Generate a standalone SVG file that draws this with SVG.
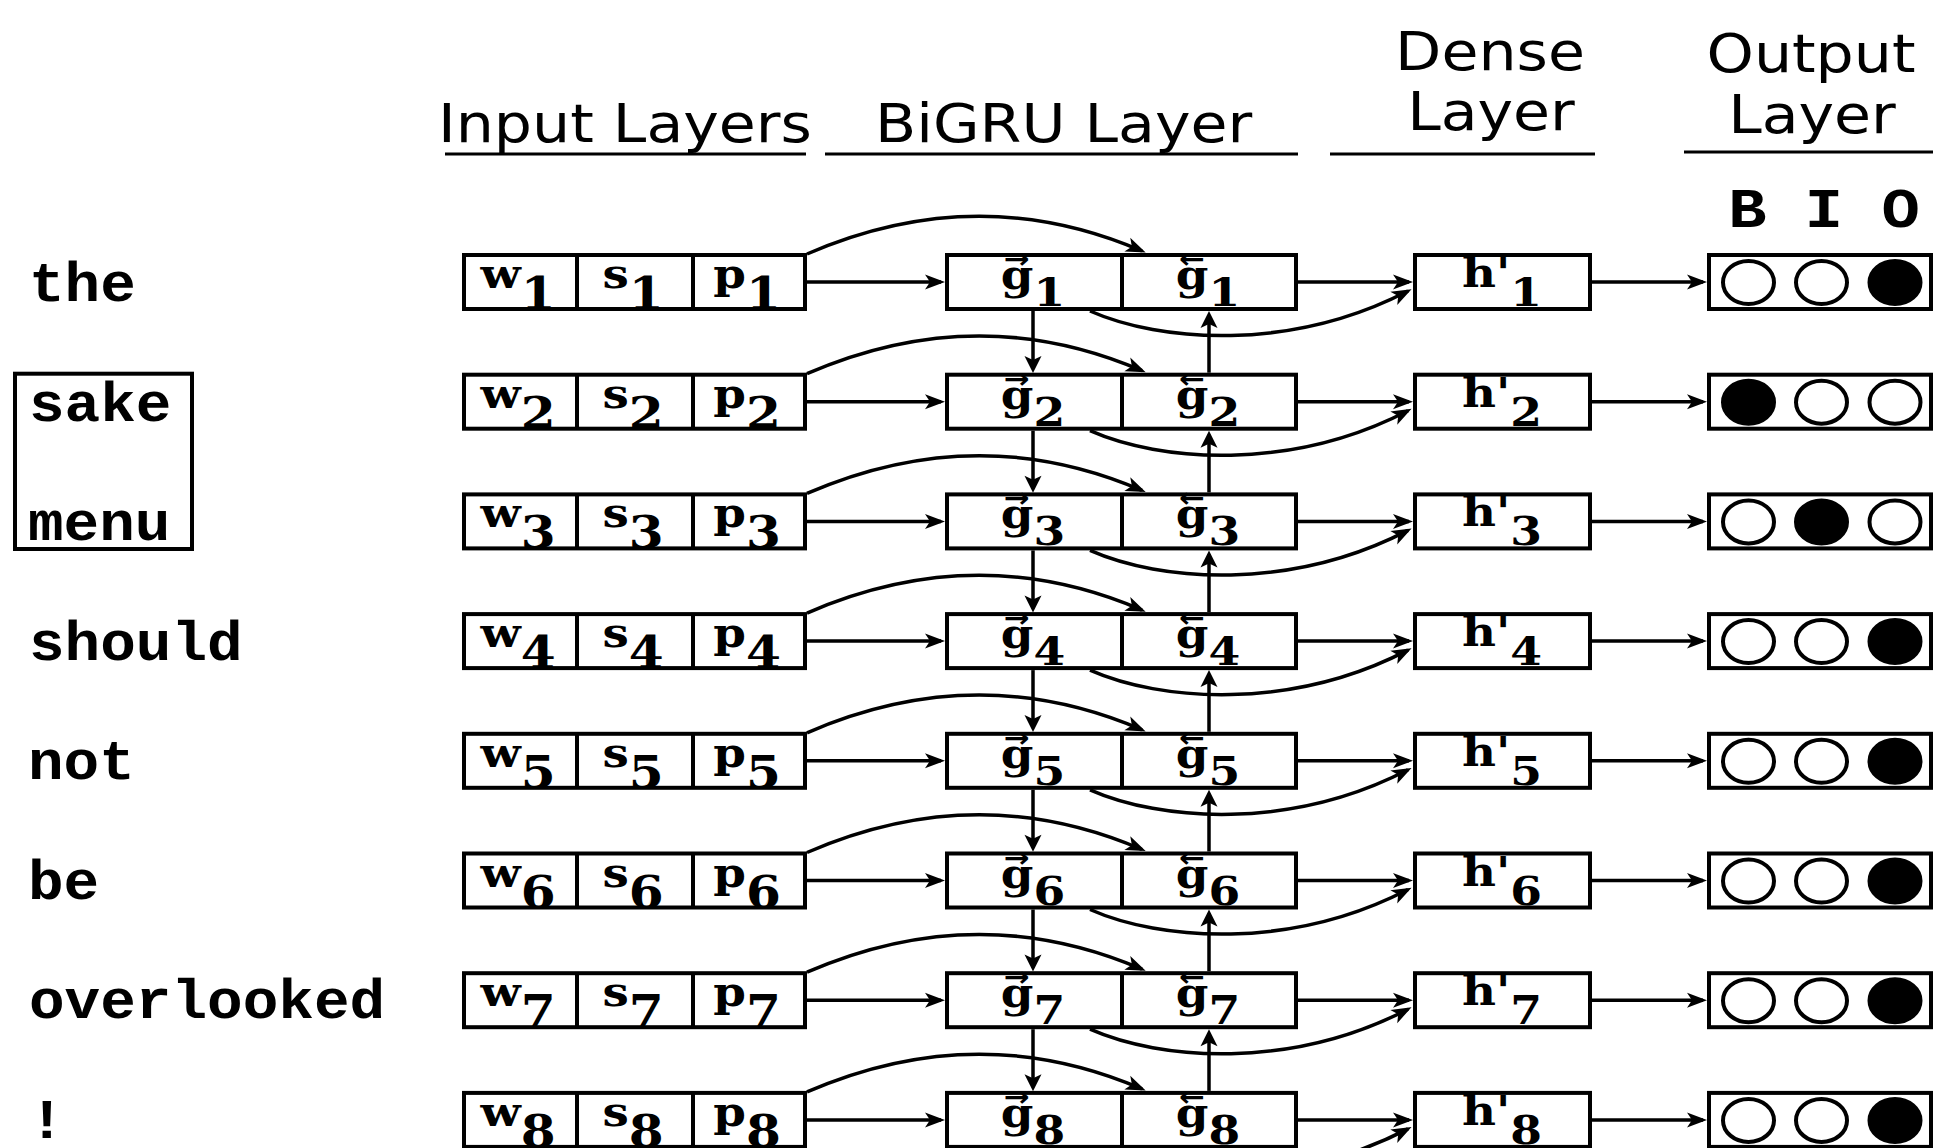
<svg xmlns="http://www.w3.org/2000/svg" width="1933" height="1148" viewBox="0 0 1933 1148">
<style>
.bx{fill:#fff;stroke:#000;stroke-width:4}
.dv{stroke:#000;stroke-width:4}
.ttl{font-family:"DejaVu Sans",sans-serif;font-size:53px;fill:#000}
.ul{stroke:#000;stroke-width:3}
.wd{font-family:"Liberation Mono","Courier New",monospace;font-weight:bold;font-size:56px;fill:#000}
.lb{font-family:"DejaVu Serif",serif;font-weight:bold;font-size:41px;text-anchor:middle;fill:#000}
.acc{font-family:"DejaVu Sans",sans-serif;font-weight:bold;font-size:27px;text-anchor:middle;fill:#000}
.si{font-size:44px}
.sg{font-size:40px}
.c path{fill:none;stroke:#000;stroke-width:3.5}
.ea{marker-end:url(#ah)}
.ev{marker-end:url(#av)}
.o{fill:#fff;stroke:#000;stroke-width:4}
.f{fill:#000;stroke:#000;stroke-width:4}
</style>
<defs>
<marker id="ah" markerUnits="userSpaceOnUse" orient="auto" overflow="visible" markerWidth="1" markerHeight="1" refX="0" refY="0"><path d="M4,0 L-16,-7.5 L-11,0 L-16,7.5 Z" fill="#000"/></marker>
<marker id="av" markerUnits="userSpaceOnUse" orient="auto" overflow="visible" markerWidth="1" markerHeight="1" refX="0" refY="0"><path d="M4,0 L-13,-8.5 L-9,0 L-13,8.5 Z" fill="#000"/></marker>
</defs>
<rect width="1933" height="1148" fill="#fff"/>

<g id="titles">
<text class="ttl" transform="translate(438,142) scale(1.135,1)">Input Layers</text>
<line class="ul" x1="445" y1="154" x2="806" y2="154"/>
<text class="ttl" transform="translate(875,142) scale(1.135,1)">BiGRU Layer</text>
<line class="ul" x1="825" y1="154" x2="1298" y2="154"/>
<text class="ttl" text-anchor="middle" transform="translate(1490,70) scale(1.135,1)">Dense</text>
<text class="ttl" text-anchor="middle" transform="translate(1491,130) scale(1.135,1)">Layer</text>
<line class="ul" x1="1330" y1="154" x2="1595" y2="154"/>
<text class="ttl" text-anchor="middle" transform="translate(1811,72) scale(1.135,1)">Output</text>
<text class="ttl" text-anchor="middle" transform="translate(1812,133) scale(1.135,1)">Layer</text>
<line class="ul" x1="1684" y1="152" x2="1933" y2="152"/>
<text class="wd" text-anchor="middle" font-size="53" transform="translate(1824,227) scale(1.14,1)">B I O</text>
</g>

<g id="words">
<text class="wd" transform="translate(29,301) scale(1.06,1)">the</text>
<g id="phrase-box"><rect x="15" y="373.7" width="177" height="175.3" fill="none" stroke="#000" stroke-width="4"/></g>
<text class="wd" transform="translate(29,420.5) scale(1.06,1)">sake</text>
<text class="wd" transform="translate(28,540) scale(1.06,1)">menu</text>
<text class="wd" transform="translate(29,659.5) scale(1.06,1)">should</text>
<text class="wd" transform="translate(28,779) scale(1.06,1)">not</text>
<text class="wd" transform="translate(28,898.5) scale(1.06,1)">be</text>
<text class="wd" transform="translate(29,1018) scale(1.06,1)">overlooked</text>
<text class="wd" transform="translate(29,1137.5) scale(1.06,1)">!</text>
</g>

<g id="connectors" class="c">
<g transform="translate(0,0)">
<path class="ea" d="M807,282 H941"/><path class="ea" d="M1298,282 H1409"/><path class="ea" d="M1592,282 H1703"/>
<path class="ea" d="M807,254 Q977,180 1142,251"/><path class="ea" d="M1090,311 C1160,342 1290,352 1408,291"/>
<path class="ev" d="M1033,311 V369"/><path class="ev" d="M1209,372.7 V315"/>
</g>
<g transform="translate(0,119.7)">
<path class="ea" d="M807,282 H941"/><path class="ea" d="M1298,282 H1409"/><path class="ea" d="M1592,282 H1703"/>
<path class="ea" d="M807,254 Q977,180 1142,251"/><path class="ea" d="M1090,311 C1160,342 1290,352 1408,291"/>
<path class="ev" d="M1033,311 V369"/><path class="ev" d="M1209,372.7 V315"/>
</g>
<g transform="translate(0,239.4)">
<path class="ea" d="M807,282 H941"/><path class="ea" d="M1298,282 H1409"/><path class="ea" d="M1592,282 H1703"/>
<path class="ea" d="M807,254 Q977,180 1142,251"/><path class="ea" d="M1090,311 C1160,342 1290,352 1408,291"/>
<path class="ev" d="M1033,311 V369"/><path class="ev" d="M1209,372.7 V315"/>
</g>
<g transform="translate(0,359.1)">
<path class="ea" d="M807,282 H941"/><path class="ea" d="M1298,282 H1409"/><path class="ea" d="M1592,282 H1703"/>
<path class="ea" d="M807,254 Q977,180 1142,251"/><path class="ea" d="M1090,311 C1160,342 1290,352 1408,291"/>
<path class="ev" d="M1033,311 V369"/><path class="ev" d="M1209,372.7 V315"/>
</g>
<g transform="translate(0,478.8)">
<path class="ea" d="M807,282 H941"/><path class="ea" d="M1298,282 H1409"/><path class="ea" d="M1592,282 H1703"/>
<path class="ea" d="M807,254 Q977,180 1142,251"/><path class="ea" d="M1090,311 C1160,342 1290,352 1408,291"/>
<path class="ev" d="M1033,311 V369"/><path class="ev" d="M1209,372.7 V315"/>
</g>
<g transform="translate(0,598.5)">
<path class="ea" d="M807,282 H941"/><path class="ea" d="M1298,282 H1409"/><path class="ea" d="M1592,282 H1703"/>
<path class="ea" d="M807,254 Q977,180 1142,251"/><path class="ea" d="M1090,311 C1160,342 1290,352 1408,291"/>
<path class="ev" d="M1033,311 V369"/><path class="ev" d="M1209,372.7 V315"/>
</g>
<g transform="translate(0,718.2)">
<path class="ea" d="M807,282 H941"/><path class="ea" d="M1298,282 H1409"/><path class="ea" d="M1592,282 H1703"/>
<path class="ea" d="M807,254 Q977,180 1142,251"/><path class="ea" d="M1090,311 C1160,342 1290,352 1408,291"/>
<path class="ev" d="M1033,311 V369"/><path class="ev" d="M1209,372.7 V315"/>
</g>
<g transform="translate(0,837.9)">
<path class="ea" d="M807,282 H941"/><path class="ea" d="M1298,282 H1409"/><path class="ea" d="M1592,282 H1703"/>
<path class="ea" d="M807,254 Q977,180 1142,251"/><path class="ea" d="M1090,311 C1160,342 1290,352 1408,291"/>
</g>
</g>

<g id="input-1" transform="translate(0,0)"><rect class="bx" x="464" y="255" width="341" height="54"/><line class="dv" x1="577" y1="255" x2="577" y2="309"/><line class="dv" x1="693" y1="255" x2="693" y2="309"/>
<text class="lb" transform="translate(518,288) scale(1.14,1)">w<tspan class="si" dy="21">1</tspan></text><text class="lb" transform="translate(633,288) scale(1.14,1)">s<tspan class="si" dy="21">1</tspan></text><text class="lb" transform="translate(747,288) scale(1.14,1)">p<tspan class="si" dy="21">1</tspan></text></g>
<g id="input-2" transform="translate(0,119.7)"><rect class="bx" x="464" y="255" width="341" height="54"/><line class="dv" x1="577" y1="255" x2="577" y2="309"/><line class="dv" x1="693" y1="255" x2="693" y2="309"/>
<text class="lb" transform="translate(518,288) scale(1.14,1)">w<tspan class="si" dy="21">2</tspan></text><text class="lb" transform="translate(633,288) scale(1.14,1)">s<tspan class="si" dy="21">2</tspan></text><text class="lb" transform="translate(747,288) scale(1.14,1)">p<tspan class="si" dy="21">2</tspan></text></g>
<g id="input-3" transform="translate(0,239.4)"><rect class="bx" x="464" y="255" width="341" height="54"/><line class="dv" x1="577" y1="255" x2="577" y2="309"/><line class="dv" x1="693" y1="255" x2="693" y2="309"/>
<text class="lb" transform="translate(518,288) scale(1.14,1)">w<tspan class="si" dy="21">3</tspan></text><text class="lb" transform="translate(633,288) scale(1.14,1)">s<tspan class="si" dy="21">3</tspan></text><text class="lb" transform="translate(747,288) scale(1.14,1)">p<tspan class="si" dy="21">3</tspan></text></g>
<g id="input-4" transform="translate(0,359.1)"><rect class="bx" x="464" y="255" width="341" height="54"/><line class="dv" x1="577" y1="255" x2="577" y2="309"/><line class="dv" x1="693" y1="255" x2="693" y2="309"/>
<text class="lb" transform="translate(518,288) scale(1.14,1)">w<tspan class="si" dy="21">4</tspan></text><text class="lb" transform="translate(633,288) scale(1.14,1)">s<tspan class="si" dy="21">4</tspan></text><text class="lb" transform="translate(747,288) scale(1.14,1)">p<tspan class="si" dy="21">4</tspan></text></g>
<g id="input-5" transform="translate(0,478.8)"><rect class="bx" x="464" y="255" width="341" height="54"/><line class="dv" x1="577" y1="255" x2="577" y2="309"/><line class="dv" x1="693" y1="255" x2="693" y2="309"/>
<text class="lb" transform="translate(518,288) scale(1.14,1)">w<tspan class="si" dy="21">5</tspan></text><text class="lb" transform="translate(633,288) scale(1.14,1)">s<tspan class="si" dy="21">5</tspan></text><text class="lb" transform="translate(747,288) scale(1.14,1)">p<tspan class="si" dy="21">5</tspan></text></g>
<g id="input-6" transform="translate(0,598.5)"><rect class="bx" x="464" y="255" width="341" height="54"/><line class="dv" x1="577" y1="255" x2="577" y2="309"/><line class="dv" x1="693" y1="255" x2="693" y2="309"/>
<text class="lb" transform="translate(518,288) scale(1.14,1)">w<tspan class="si" dy="21">6</tspan></text><text class="lb" transform="translate(633,288) scale(1.14,1)">s<tspan class="si" dy="21">6</tspan></text><text class="lb" transform="translate(747,288) scale(1.14,1)">p<tspan class="si" dy="21">6</tspan></text></g>
<g id="input-7" transform="translate(0,718.2)"><rect class="bx" x="464" y="255" width="341" height="54"/><line class="dv" x1="577" y1="255" x2="577" y2="309"/><line class="dv" x1="693" y1="255" x2="693" y2="309"/>
<text class="lb" transform="translate(518,288) scale(1.14,1)">w<tspan class="si" dy="21">7</tspan></text><text class="lb" transform="translate(633,288) scale(1.14,1)">s<tspan class="si" dy="21">7</tspan></text><text class="lb" transform="translate(747,288) scale(1.14,1)">p<tspan class="si" dy="21">7</tspan></text></g>
<g id="input-8" transform="translate(0,837.9)"><rect class="bx" x="464" y="255" width="341" height="54"/><line class="dv" x1="577" y1="255" x2="577" y2="309"/><line class="dv" x1="693" y1="255" x2="693" y2="309"/>
<text class="lb" transform="translate(518,288) scale(1.14,1)">w<tspan class="si" dy="21">8</tspan></text><text class="lb" transform="translate(633,288) scale(1.14,1)">s<tspan class="si" dy="21">8</tspan></text><text class="lb" transform="translate(747,288) scale(1.14,1)">p<tspan class="si" dy="21">8</tspan></text></g>

<g id="bigru-1" transform="translate(0,0)"><rect class="bx" x="947" y="255" width="349" height="54"/><line class="dv" x1="1122" y1="255" x2="1122" y2="309"/>
<text class="lb" transform="translate(1033,289) scale(1.14,1)">g<tspan class="sg" dy="17">1</tspan></text><text class="acc" transform="translate(1017,268) scale(1.14,1)">→</text>
<text class="lb" transform="translate(1208,289) scale(1.14,1)">g<tspan class="sg" dy="17">1</tspan></text><text class="acc" transform="translate(1192,268) scale(1.14,1)">←</text></g>
<g id="bigru-2" transform="translate(0,119.7)"><rect class="bx" x="947" y="255" width="349" height="54"/><line class="dv" x1="1122" y1="255" x2="1122" y2="309"/>
<text class="lb" transform="translate(1033,289) scale(1.14,1)">g<tspan class="sg" dy="17">2</tspan></text><text class="acc" transform="translate(1017,268) scale(1.14,1)">→</text>
<text class="lb" transform="translate(1208,289) scale(1.14,1)">g<tspan class="sg" dy="17">2</tspan></text><text class="acc" transform="translate(1192,268) scale(1.14,1)">←</text></g>
<g id="bigru-3" transform="translate(0,239.4)"><rect class="bx" x="947" y="255" width="349" height="54"/><line class="dv" x1="1122" y1="255" x2="1122" y2="309"/>
<text class="lb" transform="translate(1033,289) scale(1.14,1)">g<tspan class="sg" dy="17">3</tspan></text><text class="acc" transform="translate(1017,268) scale(1.14,1)">→</text>
<text class="lb" transform="translate(1208,289) scale(1.14,1)">g<tspan class="sg" dy="17">3</tspan></text><text class="acc" transform="translate(1192,268) scale(1.14,1)">←</text></g>
<g id="bigru-4" transform="translate(0,359.1)"><rect class="bx" x="947" y="255" width="349" height="54"/><line class="dv" x1="1122" y1="255" x2="1122" y2="309"/>
<text class="lb" transform="translate(1033,289) scale(1.14,1)">g<tspan class="sg" dy="17">4</tspan></text><text class="acc" transform="translate(1017,268) scale(1.14,1)">→</text>
<text class="lb" transform="translate(1208,289) scale(1.14,1)">g<tspan class="sg" dy="17">4</tspan></text><text class="acc" transform="translate(1192,268) scale(1.14,1)">←</text></g>
<g id="bigru-5" transform="translate(0,478.8)"><rect class="bx" x="947" y="255" width="349" height="54"/><line class="dv" x1="1122" y1="255" x2="1122" y2="309"/>
<text class="lb" transform="translate(1033,289) scale(1.14,1)">g<tspan class="sg" dy="17">5</tspan></text><text class="acc" transform="translate(1017,268) scale(1.14,1)">→</text>
<text class="lb" transform="translate(1208,289) scale(1.14,1)">g<tspan class="sg" dy="17">5</tspan></text><text class="acc" transform="translate(1192,268) scale(1.14,1)">←</text></g>
<g id="bigru-6" transform="translate(0,598.5)"><rect class="bx" x="947" y="255" width="349" height="54"/><line class="dv" x1="1122" y1="255" x2="1122" y2="309"/>
<text class="lb" transform="translate(1033,289) scale(1.14,1)">g<tspan class="sg" dy="17">6</tspan></text><text class="acc" transform="translate(1017,268) scale(1.14,1)">→</text>
<text class="lb" transform="translate(1208,289) scale(1.14,1)">g<tspan class="sg" dy="17">6</tspan></text><text class="acc" transform="translate(1192,268) scale(1.14,1)">←</text></g>
<g id="bigru-7" transform="translate(0,718.2)"><rect class="bx" x="947" y="255" width="349" height="54"/><line class="dv" x1="1122" y1="255" x2="1122" y2="309"/>
<text class="lb" transform="translate(1033,289) scale(1.14,1)">g<tspan class="sg" dy="17">7</tspan></text><text class="acc" transform="translate(1017,268) scale(1.14,1)">→</text>
<text class="lb" transform="translate(1208,289) scale(1.14,1)">g<tspan class="sg" dy="17">7</tspan></text><text class="acc" transform="translate(1192,268) scale(1.14,1)">←</text></g>
<g id="bigru-8" transform="translate(0,837.9)"><rect class="bx" x="947" y="255" width="349" height="54"/><line class="dv" x1="1122" y1="255" x2="1122" y2="309"/>
<text class="lb" transform="translate(1033,289) scale(1.14,1)">g<tspan class="sg" dy="17">8</tspan></text><text class="acc" transform="translate(1017,268) scale(1.14,1)">→</text>
<text class="lb" transform="translate(1208,289) scale(1.14,1)">g<tspan class="sg" dy="17">8</tspan></text><text class="acc" transform="translate(1192,268) scale(1.14,1)">←</text></g>

<g id="dense-1" transform="translate(0,0)"><rect class="bx" x="1415" y="255" width="175" height="54"/><text class="lb" transform="translate(1502,287) scale(1.14,1)">h'<tspan class="sg" dy="19">1</tspan></text></g>
<g id="dense-2" transform="translate(0,119.7)"><rect class="bx" x="1415" y="255" width="175" height="54"/><text class="lb" transform="translate(1502,287) scale(1.14,1)">h'<tspan class="sg" dy="19">2</tspan></text></g>
<g id="dense-3" transform="translate(0,239.4)"><rect class="bx" x="1415" y="255" width="175" height="54"/><text class="lb" transform="translate(1502,287) scale(1.14,1)">h'<tspan class="sg" dy="19">3</tspan></text></g>
<g id="dense-4" transform="translate(0,359.1)"><rect class="bx" x="1415" y="255" width="175" height="54"/><text class="lb" transform="translate(1502,287) scale(1.14,1)">h'<tspan class="sg" dy="19">4</tspan></text></g>
<g id="dense-5" transform="translate(0,478.8)"><rect class="bx" x="1415" y="255" width="175" height="54"/><text class="lb" transform="translate(1502,287) scale(1.14,1)">h'<tspan class="sg" dy="19">5</tspan></text></g>
<g id="dense-6" transform="translate(0,598.5)"><rect class="bx" x="1415" y="255" width="175" height="54"/><text class="lb" transform="translate(1502,287) scale(1.14,1)">h'<tspan class="sg" dy="19">6</tspan></text></g>
<g id="dense-7" transform="translate(0,718.2)"><rect class="bx" x="1415" y="255" width="175" height="54"/><text class="lb" transform="translate(1502,287) scale(1.14,1)">h'<tspan class="sg" dy="19">7</tspan></text></g>
<g id="dense-8" transform="translate(0,837.9)"><rect class="bx" x="1415" y="255" width="175" height="54"/><text class="lb" transform="translate(1502,287) scale(1.14,1)">h'<tspan class="sg" dy="19">8</tspan></text></g>

<g id="output-1" transform="translate(0,0)"><rect class="bx" x="1709" y="255" width="222" height="54"/><ellipse class="o" cx="1748.5" cy="282.5" rx="25.5" ry="21.5"/><ellipse class="o" cx="1821.5" cy="282.5" rx="25.5" ry="21.5"/><ellipse class="f" cx="1895" cy="282.5" rx="25.5" ry="21.5"/></g>
<g id="output-2" transform="translate(0,119.7)"><rect class="bx" x="1709" y="255" width="222" height="54"/><ellipse class="f" cx="1748.5" cy="282.5" rx="25.5" ry="21.5"/><ellipse class="o" cx="1821.5" cy="282.5" rx="25.5" ry="21.5"/><ellipse class="o" cx="1895" cy="282.5" rx="25.5" ry="21.5"/></g>
<g id="output-3" transform="translate(0,239.4)"><rect class="bx" x="1709" y="255" width="222" height="54"/><ellipse class="o" cx="1748.5" cy="282.5" rx="25.5" ry="21.5"/><ellipse class="f" cx="1821.5" cy="282.5" rx="25.5" ry="21.5"/><ellipse class="o" cx="1895" cy="282.5" rx="25.5" ry="21.5"/></g>
<g id="output-4" transform="translate(0,359.1)"><rect class="bx" x="1709" y="255" width="222" height="54"/><ellipse class="o" cx="1748.5" cy="282.5" rx="25.5" ry="21.5"/><ellipse class="o" cx="1821.5" cy="282.5" rx="25.5" ry="21.5"/><ellipse class="f" cx="1895" cy="282.5" rx="25.5" ry="21.5"/></g>
<g id="output-5" transform="translate(0,478.8)"><rect class="bx" x="1709" y="255" width="222" height="54"/><ellipse class="o" cx="1748.5" cy="282.5" rx="25.5" ry="21.5"/><ellipse class="o" cx="1821.5" cy="282.5" rx="25.5" ry="21.5"/><ellipse class="f" cx="1895" cy="282.5" rx="25.5" ry="21.5"/></g>
<g id="output-6" transform="translate(0,598.5)"><rect class="bx" x="1709" y="255" width="222" height="54"/><ellipse class="o" cx="1748.5" cy="282.5" rx="25.5" ry="21.5"/><ellipse class="o" cx="1821.5" cy="282.5" rx="25.5" ry="21.5"/><ellipse class="f" cx="1895" cy="282.5" rx="25.5" ry="21.5"/></g>
<g id="output-7" transform="translate(0,718.2)"><rect class="bx" x="1709" y="255" width="222" height="54"/><ellipse class="o" cx="1748.5" cy="282.5" rx="25.5" ry="21.5"/><ellipse class="o" cx="1821.5" cy="282.5" rx="25.5" ry="21.5"/><ellipse class="f" cx="1895" cy="282.5" rx="25.5" ry="21.5"/></g>
<g id="output-8" transform="translate(0,837.9)"><rect class="bx" x="1709" y="255" width="222" height="54"/><ellipse class="o" cx="1748.5" cy="282.5" rx="25.5" ry="21.5"/><ellipse class="o" cx="1821.5" cy="282.5" rx="25.5" ry="21.5"/><ellipse class="f" cx="1895" cy="282.5" rx="25.5" ry="21.5"/></g>
</svg>
